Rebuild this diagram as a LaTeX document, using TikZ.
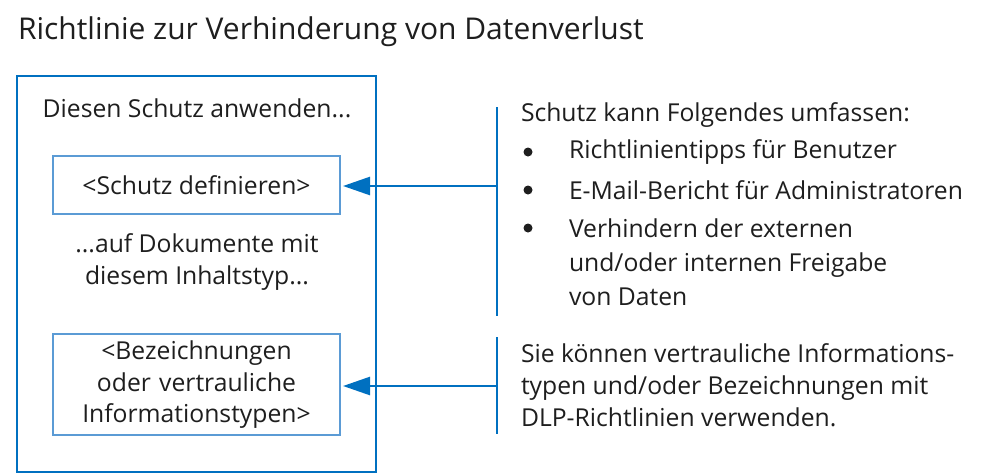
\documentclass[tikz,border=0pt]{standalone}
\usepackage{fontspec}
\setmainfont{Open Sans}
\usetikzlibrary{arrows.meta}
\definecolor{dblue}{RGB}{0,112,192}
\definecolor{lblue}{RGB}{91,155,213}
\definecolor{txt}{RGB}{30,30,30}
\begin{document}
\begin{tikzpicture}[x=1pt,y=-1pt,
  every node/.style={inner sep=0pt,outer sep=0pt,text=txt},
  body/.style={font=\fontsize{24.7}{31.5}\selectfont,align=center},
  bodyl/.style={font=\fontsize{24.7}{32}\selectfont,align=left,anchor=west},
  inbox/.style={draw=lblue,line width=1.2pt},
  arr/.style={draw=dblue,line width=2.5pt,-{Triangle[length=27pt,width=18pt]}},
  bar/.style={draw=dblue,line width=2pt},
  bul/.style={circle,fill=txt,minimum size=9pt}]
\useasboundingbox (0,0) rectangle (993,474);
\node[anchor=west,font=\fontsize{30}{34}\selectfont] (title) at (18,32) {Richtlinie zur Verhinderung von Datenverlust};
\draw[dblue,line width=2.2pt] (17,76) rectangle (376,472);
\node[body] (apply) at (197,108) {Diesen Schutz anwenden...};
\draw[inbox] (53,156) rectangle (340,214);
\node[body] (def) at (196.5,185) {<Schutz definieren>};
\node[body] (doc) at (197,262) {...auf Dokumente mit\\diesem Inhaltstyp...};
\draw[inbox] (53,334) rectangle (340,435);
\node[body,text width=280pt] (lab) at (196.5,385) {<Bezeichnungen\\oder vertrauliche\\Informationstypen>};
\coordinate (t1) at (343,186);
\coordinate (t2) at (343,386);
\coordinate (b1top) at (497,107);
\coordinate (b1bot) at (497,316);
\coordinate (b2top) at (497,337);
\coordinate (b2bot) at (497,434);
\coordinate (s1) at (496,186);
\coordinate (s2) at (496,386);
\draw[bar] (b1top) -- (b1bot);
\draw[bar] (b2top) -- (b2bot);
\draw[arr] (s1) -- (t1);
\draw[arr] (s2) -- (t2);
\node[anchor=west,font=\fontsize{24.7}{30}\selectfont] (head) at (521,115) {Schutz kann Folgendes umfassen:};
\node[bul] (d1) at (528,152) {};
\node[bul] (d2) at (528,190) {};
\node[bul] (d3) at (528,228) {};
\node[anchor=west,font=\fontsize{24.7}{30}\selectfont] (i1) at (569,152) {Richtlinientipps für Benutzer};
\node[anchor=west,font=\fontsize{24.7}{30}\selectfont] (i2) at (569,190) {E-Mail-Bericht für Administratoren};
\node[anchor=west,font=\fontsize{24.7}{34}\selectfont,align=left] (i3) at (569,262) {Verhindern der externen\\und/oder internen Freigabe\\von Daten};
\node[bodyl] (sie) at (521,385) {Sie können vertrauliche Informations-\\typen und/oder Bezeichnungen mit\\DLP-Richtlinien verwenden.};
\end{tikzpicture}
\end{document}
